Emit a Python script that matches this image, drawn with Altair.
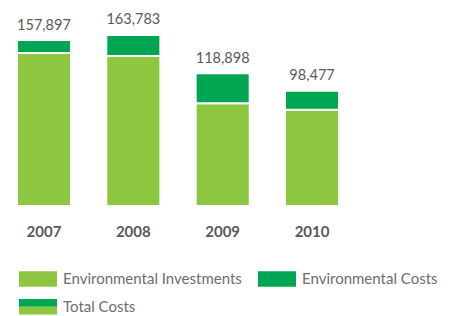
import altair as alt
import pandas as pd

# ---- data ----
years = ["2007", "2008", "2009", "2010"]
investments = [142697, 139183, 83698, 76177]   # lower (light green) segment
costs = [15200, 24600, 35200, 22300]            # upper (dark green) segment
legend_labels = ["Environmental Investments", "Environmental Costs", "Total Costs"]

LIGHT = "#8dc63f"
DARK = "#00a651"
VAL_COLOR = "#58595b"
LEG_COLOR = "#6d6e71"
FONT = "Lato"

W, H = 340, 198
Y_MIN, Y_MAX = -36703, 195436

df = pd.DataFrame({"year": years, "inv": investments, "cost": costs})
df["total"] = df["inv"] + df["cost"]

xscale = alt.Scale(paddingInner=0.395, paddingOuter=0.1)
yscale = alt.Scale(domain=[Y_MIN, Y_MAX], nice=False, zero=False)
xaxis = alt.Axis(labelAngle=0, ticks=False, tickSize=0, domain=False, grid=False,
                 labelFont=FONT, labelFontWeight="bold", labelFontSize=15,
                 labelColor=VAL_COLOR, labelPadding=30.5, labelBaseline="alphabetic",
                 title=None)

base = alt.Chart(df)
bars_inv = base.mark_bar(color=LIGHT, stroke="white", strokeWidth=2).encode(
    x=alt.X("year:N", scale=xscale, axis=xaxis, sort=years),
    y=alt.Y("inv:Q", scale=yscale, axis=None),
    y2=alt.datum(Y_MIN),
)
bars_cost = base.mark_bar(color=DARK, stroke="white", strokeWidth=2).encode(
    x=alt.X("year:N", scale=xscale, axis=xaxis, sort=years),
    y=alt.Y("total:Q", scale=yscale, axis=None),
    y2="inv:Q",
)
labels = base.mark_text(dy=-10.5, baseline="alphabetic", font=FONT, fontSize=14.5,
                        color=VAL_COLOR).encode(
    x=alt.X("year:N", scale=xscale, axis=xaxis, sort=years),
    y=alt.Y("total:Q", scale=yscale, axis=None),
    text=alt.Text("total:Q", format=",d"),
)
main = alt.layer(bars_inv, bars_cost, labels)

# ---- hand-built legend (third swatch is two-coloured) ----
sw_w, sw_h, col_gap, row_gap = 38, 15.5, 239, 27.7
x0, y0 = 11, 263.3
rects, texts = [], []
for i, lab in enumerate(legend_labels):
    col, row = i % 2, i // 2
    sx = x0 + col * col_gap
    sy = y0 + row * row_gap
    if lab == "Total Costs":
        rects.append({"sx": sx, "sx2": sx + sw_w, "sy": sy, "sy2": sy + sw_h / 2, "c": DARK})
        rects.append({"sx": sx, "sx2": sx + sw_w, "sy": sy + sw_h / 2, "sy2": sy + sw_h, "c": LIGHT})
    else:
        rects.append({"sx": sx, "sx2": sx + sw_w, "sy": sy, "sy2": sy + sw_h,
                      "c": LIGHT if i == 0 else DARK})
    texts.append({"tx": sx + sw_w + 6, "ty": sy + 12.8, "label": lab})

leg_rect = alt.Chart(pd.DataFrame(rects)).mark_rect().encode(
    x=alt.X("sx:Q", scale=None, axis=None), x2="sx2:Q",
    y=alt.Y("sy:Q", scale=None, axis=None), y2="sy2:Q",
    color=alt.Color("c:N", scale=None, legend=None),
)
leg_text = alt.Chart(pd.DataFrame(texts)).mark_text(
    align="left", baseline="alphabetic", font=FONT, fontSize=15, color=LEG_COLOR
).encode(
    x=alt.X("tx:Q", scale=None, axis=None),
    y=alt.Y("ty:Q", scale=None, axis=None),
    text="label:N",
)
legend = alt.layer(leg_rect, leg_text)

chart = alt.layer(main, legend).resolve_scale(x="independent", y="independent").properties(
    width=W, height=H, padding=0
).configure_view(stroke=None)

chart.save("out.html", embed_options={"renderer": "svg", "actions": False})
